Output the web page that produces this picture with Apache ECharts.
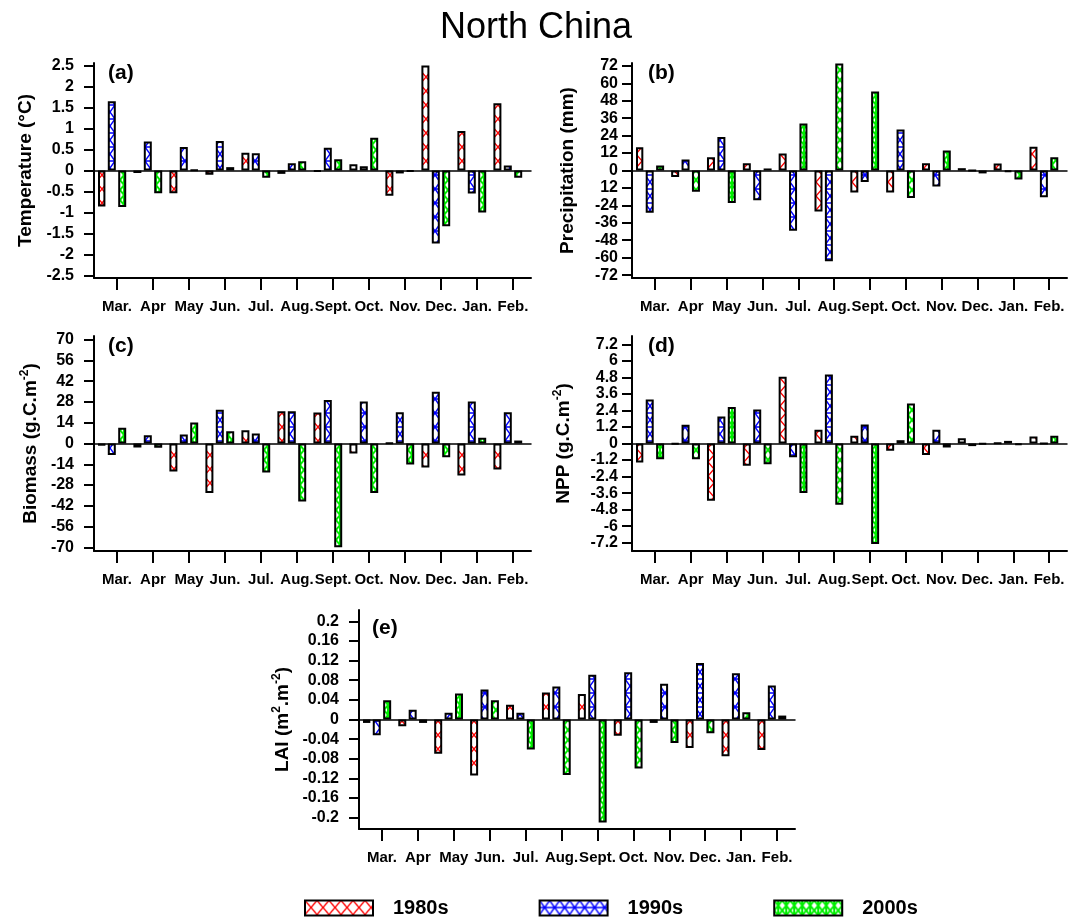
<!DOCTYPE html>
<html>
<head>
<meta charset="utf-8">
<title>North China</title>
<script src="https://cdn.jsdelivr.net/npm/echarts@6/dist/echarts.min.js"></script>
<style>
html, body { margin: 0; padding: 0; background: #fff; }
#main { width: 1072px; height: 919px; }
</style>
</head>
<body>
<div id="main"></div>
<script>
var months = ['Mar.', 'Apr', 'May', 'Jun.', 'Jul.', 'Aug.', 'Sept.', 'Oct.', 'Nov.', 'Dec.', 'Jan.', 'Feb.'];
var decades = ['1980s', '1990s', '2000s'];

// (a) temperature anomaly
var temp1980s = [-0.86, -0.06, -0.54, -0.1, 0.42, -0.08, -0.02, 0.15, -0.6, 2.5, 0.94, 1.6];
var temp1990s = [1.65, 0.69, 0.56, 0.7, 0.41, 0.17, 0.54, 0.1, -0.07, -1.74, -0.55, 0.12];
var temp2000s = [-0.87, -0.54, 0.01, 0.08, -0.17, 0.22, 0.27, 0.78, -0.02, -1.33, -1.0, -0.17];
// (b) precipitation
var prec1980s = [16, -4.4, 9.2, 5, 11.7, -28.3, -15.2, -15.2, 5, 1.6, 4.8, 16.3];
var prec1990s = [-29, 7.6, 23, -20.5, -41.4, -62.5, -8, 28.3, -11, 0, -0.9, -18.4];
var prec2000s = [3.4, -14.7, -22.3, 1.4, 32.4, 73.6, 54.3, -18.9, 13.8, -2, -6.2, 9.2];
// (c) biomass
var bio1980s = [-1.5, -2.7, -18.9, -33.3, 8.9, 21.8, 20.9, -6.7, 0.3, -16.2, -21.6, -17.6];
var bio1990s = [-7.8, 5.6, 6, 22.7, 6.7, 21.8, 29.3, 28.4, 21.1, 34.9, 28.4, 21.1];
var bio2000s = [10.7, -2.9, 14.2, 8.2, -19.6, -39.1, -70, -33.3, -14.2, -9.3, 3.8, 2];
// (d) NPP
var npp1980s = [-1.38, -0.05, -4.15, -1.62, 4.85, 1.0, 0.57, -0.53, -0.84, 0.38, 0.02, 0.5];
var npp1990s = [3.2, 1.36, 1.96, 2.46, -1.0, 5.0, 1.38, 0.24, 1.0, -0.19, 0.19, 0];
var npp2000s = [-1.15, -1.15, 2.65, -1.5, -3.6, -4.45, -7.3, 2.9, -0.29, -0.05, -0.1, 0.57];
// (e) LAI
var lai1980s = [-0.007, -0.014, -0.07, -0.114, 0.03, 0.055, 0.052, -0.033, -0.007, -0.058, -0.075, -0.062];
var lai1990s = [-0.032, 0.02, 0.014, 0.061, 0.014, 0.067, 0.091, 0.096, 0.073, 0.115, 0.094, 0.069];
var lai2000s = [0.039, -0.007, 0.053, 0.039, -0.061, -0.113, -0.21, -0.1, -0.048, -0.028, 0.015, 0.008];

// y tick values and the labels printed next to them
var tempTicks = [2.5, 2, 1.5, 1, 0.5, 0, -0.5, -1, -1.5, -2, -2.5];
var tempTickLabels = ['2.5', '2', '1.5', '1', '0.5', '0', '-0.5', '-1', '-1.5', '-2', '-2.5'];
var precTicks = [72, 60, 48, 36, 24, 12, 0, -12, -24, -36, -48, -60, -72];
var precTickLabels = ['72', '60', '48', '36', '24', '12', '0', '12', '-24', '-36', '-48', '-60', '-72'];
var bioTicks = [70, 56, 42, 28, 14, 0, -14, -28, -42, -56, -70];
var bioTickLabels = ['70', '56', '42', '28', '14', '0', '-14', '-28', '-42', '-56', '-70'];
var nppTicks = [7.2, 6, 4.8, 3.6, 2.4, 1.2, 0, -1.2, -2.4, -3.6, -4.8, -6, -7.2];
var nppTickLabels = ['7.2', '6', '4.8', '3.6', '2.4', '1.2', '0', '-1.2', '-2.4', '-3.6', '-4.8', '-6', '-7.2'];
var laiTicks = [0.2, 0.16, 0.12, 0.08, 0.04, 0, -0.04, -0.08, -0.12, -0.16, -0.2];
var laiTickLabels = ['0.2', '0.16', '0.12', '0.08', '0.04', '0', '-0.04', '-0.08', '-0.12', '-0.16', '-0.2'];

var panels = [
    {tag: '(a)', name: 'Temperature (°C)', series: [temp1980s, temp1990s, temp2000s], ticks: tempTicks, tickLabels: tempTickLabels, min: -2.56, max: 2.56},
    {tag: '(b)', name: 'Precipitation (mm)', series: [prec1980s, prec1990s, prec2000s], ticks: precTicks, tickLabels: precTickLabels, min: -74, max: 74},
    {tag: '(c)', name: 'Biomass (g.C.m{sup|-2})', series: [bio1980s, bio1990s, bio2000s], ticks: bioTicks, tickLabels: bioTickLabels, min: -72.5, max: 72.5},
    {tag: '(d)', name: 'NPP (g.C.m{sup|-2})', series: [npp1980s, npp1990s, npp2000s], ticks: nppTicks, tickLabels: nppTickLabels, min: -7.8, max: 7.8},
    {tag: '(e)', name: 'LAI (m{sup|2}.m{sup|-2})', series: [lai1980s, lai1990s, lai2000s], ticks: laiTicks, tickLabels: laiTickLabels, min: -0.223, max: 0.223}
];

// layout: axisX = where the y axis line sits, plot starts 5px to its right
var layout = [
    {axisX: 94, width: 437, top: 63, height: 215, nameGap: 59, labelGap: 20, tagLeft: 108, tagTop: 63},
    {axisX: 632, width: 435, top: 63, height: 215, nameGap: 55, labelGap: 14, tagLeft: 648, tagTop: 63},
    {axisX: 94, width: 437, top: 336, height: 215, nameGap: 52, labelGap: 20, tagLeft: 108, tagTop: 336},
    {axisX: 632, width: 435, top: 336, height: 215, nameGap: 57, labelGap: 14, tagLeft: 648, tagTop: 336},
    {axisX: 359, width: 436, top: 610, height: 219, nameGap: 65, labelGap: 20, tagLeft: 372, tagTop: 618}
];

var font = 'Liberation Sans';

function makeTile(w, h, draw) {
    var c = document.createElement('canvas');
    c.width = w;
    c.height = h;
    var ctx = c.getContext('2d');
    ctx.fillStyle = '#ffffff';
    ctx.fillRect(0, 0, w, h);
    draw(ctx, w, h);
    return {image: c, repeat: 'repeat'};
}

var fills = [
    makeTile(12, 14, function (ctx, w, h) {
        ctx.strokeStyle = '#ff0000';
        ctx.lineWidth = 1.4;
        ctx.beginPath();
        ctx.moveTo(0, 0); ctx.lineTo(w, h);
        ctx.moveTo(w, 0); ctx.lineTo(0, h);
        ctx.stroke();
    }),
    makeTile(10, 14, function (ctx, w, h) {
        ctx.strokeStyle = '#0000ff';
        ctx.lineWidth = 1.4;
        ctx.beginPath();
        ctx.moveTo(0, 0); ctx.lineTo(w, h);
        ctx.moveTo(w, 0); ctx.lineTo(0, h);
        ctx.moveTo(0, h / 2); ctx.lineTo(w, h / 2);
        ctx.stroke();
    }),
    makeTile(8, 10, function (ctx, w, h) {
        ctx.strokeStyle = '#00ee00';
        ctx.lineWidth = 2;
        ctx.beginPath();
        ctx.moveTo(0, 0); ctx.lineTo(w, h);
        ctx.moveTo(w, 0); ctx.lineTo(0, h);
        ctx.moveTo(w / 2, 0); ctx.lineTo(w / 2, h);
        ctx.stroke();
    })
];

var grid = [], xAxis = [], yAxis = [], series = [];
var title = [{
    text: 'North China', left: 'center', top: 10, padding: 0,
    textStyle: {fontFamily: font, fontSize: 36, fontWeight: 'normal', color: '#000'}
}];

panels.forEach(function (p, i) {
    var L = layout[i];
    // frame grid: holds the visible axis lines and y labels
    grid.push({left: L.axisX, top: L.top, width: L.width, height: L.height});
    // plot grid: bars and month ticks
    grid.push({left: L.axisX + 5, top: L.top, width: L.width - 5, height: L.height});
    var g = i * 2;

    xAxis.push({
        type: 'value', gridIndex: g, min: 0, max: 1, position: 'bottom',
        axisLine: {show: true, onZero: false, lineStyle: {color: '#000', width: 2}},
        axisTick: {show: false}, axisLabel: {show: false}, splitLine: {show: false}
    });
    xAxis.push({
        type: 'value', gridIndex: g, min: 0, max: 1, position: 'top',
        axisLine: {show: true, onZero: true, lineStyle: {color: '#000', width: 1.5}},
        axisTick: {show: false}, axisLabel: {show: false}, splitLine: {show: false}
    });
    xAxis.push({
        type: 'category', gridIndex: g + 1, data: months, position: 'bottom',
        axisLine: {show: false, onZero: false},
        axisTick: {show: true, alignWithLabel: true, length: 12, lineStyle: {color: '#000', width: 2}},
        axisLabel: {interval: 0, margin: 21, fontFamily: font, fontSize: 15, fontWeight: 'bold', color: '#000'},
        splitLine: {show: false}
    });

    yAxis.push({
        type: 'value', gridIndex: g, min: p.min, max: p.max,
        name: p.name, nameLocation: 'middle', nameGap: L.nameGap,
        nameTextStyle: {
            fontFamily: font, fontSize: 19, fontWeight: 'bold', color: '#000',
            rich: {sup: {fontFamily: font, fontSize: 12, fontWeight: 'bold', color: '#000', verticalAlign: 'top', lineHeight: 23}}
        },
        axisLine: {show: true, lineStyle: {color: '#000', width: 2}},
        axisTick: {show: true, length: 10, customValues: p.ticks, lineStyle: {color: '#000', width: 2}},
        axisLabel: {
            customValues: p.ticks, margin: L.labelGap,
            fontFamily: font, fontSize: 16, fontWeight: 'bold', color: '#000',
            formatter: function (v) {
                var k = p.ticks.indexOf(v);
                return k >= 0 ? p.tickLabels[k] : '';
            }
        },
        splitLine: {show: false}
    });
    yAxis.push({
        type: 'value', gridIndex: g + 1, min: p.min, max: p.max, show: false, splitLine: {show: false}
    });

    p.series.forEach(function (vals, j) {
        series.push({
            type: 'bar', name: decades[j],
            xAxisIndex: i * 3 + 2, yAxisIndex: g + 1,
            data: vals, barWidth: 8, barGap: '30%',
            itemStyle: {color: fills[j], borderColor: '#000', borderWidth: 2},
            emphasis: {disabled: true}
        });
    });
    // empty slot so the three bars sit left of the month tick, as in the original
    series.push({
        type: 'bar', name: 'spacer', xAxisIndex: i * 3 + 2, yAxisIndex: g + 1,
        data: [], barWidth: 8, barGap: '30%', silent: true
    });

    title.push({
        text: p.tag, left: L.tagLeft, top: L.tagTop, padding: 0,
        textStyle: {fontFamily: font, fontSize: 21, fontWeight: 'bold', color: '#000'}
    });
});

var chart = echarts.init(document.getElementById('main'));
chart.setOption({
    backgroundColor: '#fff',
    animation: false,
    textStyle: {fontFamily: font},
    title: title,
    legend: {
        data: decades, left: 304, top: 898, padding: 0, icon: 'rect',
        itemWidth: 68, itemHeight: 15, itemGap: 90,
        itemStyle: {borderColor: '#000', borderWidth: 2},
        textStyle: {fontFamily: font, fontSize: 20, fontWeight: 'bold', color: '#000', padding: [0, 0, 0, 15]}
    },
    grid: grid,
    xAxis: xAxis,
    yAxis: yAxis,
    series: series
});
</script>
</body>
</html>
